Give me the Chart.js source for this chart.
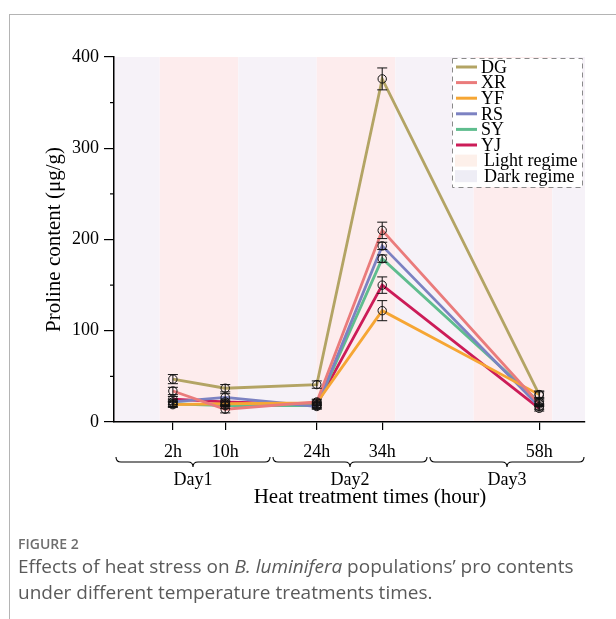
<!DOCTYPE html>
<html>
<head>
<meta charset="utf-8">
<script src="https://cdn.jsdelivr.net/npm/chart.js@4.4.0/dist/chart.umd.min.js"></script>
<style>
  body { margin: 0; background: #fff; }
  #wrap { position: relative; width: 616px; height: 619px; overflow: hidden; }
  #frame { position: absolute; left: 9px; top: 14px; width: 620px; height: 620px;
           border-top: 1.5px solid #b4b4b4; border-left: 1.5px solid #b4b4b4; }
  canvas { position: absolute; left: 0; top: 0; }
  .cap { position: absolute; left: 18px; font-family: 'Open Sans', sans-serif; color: #5a5a5a; }
  #figno { top: 534px; font-size: 14px; font-weight: 600; color: #6e6e6e; }
  #captext { top: 553px; font-size: 19px; line-height: 26px; width: 565px; }
</style>
</head>
<body>
<div id="wrap">
  <div id="frame"></div>
  <canvas id="chart" width="616" height="619"></canvas>
  <div class="cap" id="figno">FIGURE 2</div>
  <div class="cap" id="captext">Effects of heat stress on <i>B. luminifera</i> populations’ pro contents under different temperature treatments times.</div>
</div>
<script>
// sampling times (hours) and their tick labels
const hours = [2, 10, 24, 34, 58];
const tickLabels = ['2h', '10h', '24h', '34h', '58h'];

// populations
const seriesNames = ['DG', 'XR', 'YF', 'RS', 'SY', 'YJ'];
const seriesColors = ['#b3a464', '#ea7b7b', '#f6a634', '#7c82c2', '#5fbd8e', '#cc1c58'];

// proline content (ug/g)
const dgValues = [47, 37, 41, 376, 30];
const xrValues = [34, 14, 22, 210, 20];
const yfValues = [19, 20, 21, 122, 30];
const rsValues = [22, 27, 17, 193, 17];
const syValues = [20, 18, 18, 179, 22];
const yjValues = [25, 22, 19, 150, 15];

// error bars (+/-)
const dgErr = [5, 4, 4, 12, 4];
const xrErr = [4, 4, 3, 9, 3];
const yfErr = [3, 3, 3, 11, 3];
const rsErr = [3, 4, 3, 4, 3];
const syErr = [3, 3, 3, 4, 3];
const yjErr = [3, 3, 3, 9, 3];

const allValues = [dgValues, xrValues, yfValues, rsValues, syValues, yjValues];
const allErrors = [dgErr, xrErr, yfErr, rsErr, syErr, yjErr];

// light / dark regime bands (hours)
const regimeEdges = [-7, 0, 12, 24, 36, 48, 60, 65];
const regimeKinds = ['dark', 'light', 'dark', 'light', 'dark', 'light', 'dark'];

// day brackets under the axis
const dayEdges = [-7, 17, 41, 65];
const dayLabels = ['Day1', 'Day2', 'Day3'];

const yMinorTicks = [50, 150, 250, 350];

const SERIF = "'Liberation Serif', 'Times New Roman', serif";
const bandColors = { light: '#fdeced', dark: '#f6f2f8' };

const datasets = seriesNames.map((name, i) => ({
  label: name,
  data: hours.map((h, j) => ({ x: h, y: allValues[i][j] })),
  borderColor: seriesColors[i],
  borderWidth: 2.8,
  pointRadius: 0,
  tension: 0,
  fill: false
}));

// background regime bands
const bandsPlugin = {
  id: 'bands',
  beforeDraw(chart) {
    const { ctx, chartArea } = chart;
    const xs = chart.scales.x;
    ctx.save();
    for (let i = 0; i < regimeKinds.length; i++) {
      const x0 = xs.getPixelForValue(regimeEdges[i]);
      const x1 = xs.getPixelForValue(regimeEdges[i + 1]);
      ctx.fillStyle = bandColors[regimeKinds[i]];
      ctx.fillRect(x0, chartArea.top, x1 - x0, chartArea.bottom - chartArea.top);
    }
    ctx.restore();
  }
};

// error bars + open circle markers
const errorBarPlugin = {
  id: 'errorBars',
  afterDatasetsDraw(chart) {
    const { ctx } = chart;
    const ys = chart.scales.y;
    ctx.save();
    ctx.strokeStyle = '#111';
    ctx.lineWidth = 1;
    chart.data.datasets.forEach((ds, i) => {
      const meta = chart.getDatasetMeta(i);
      meta.data.forEach((pt, j) => {
        const v = allValues[i][j];
        const e = allErrors[i][j];
        const yTop = ys.getPixelForValue(v + e);
        const yBot = ys.getPixelForValue(v - e);
        ctx.beginPath();
        ctx.moveTo(pt.x, yTop); ctx.lineTo(pt.x, yBot);
        ctx.moveTo(pt.x - 5, yTop); ctx.lineTo(pt.x + 5, yTop);
        ctx.moveTo(pt.x - 5, yBot); ctx.lineTo(pt.x + 5, yBot);
        ctx.stroke();
      });
    });
    chart.data.datasets.forEach((ds, i) => {
      const meta = chart.getDatasetMeta(i);
      meta.data.forEach(pt => {
        ctx.beginPath();
        ctx.arc(pt.x, pt.y, 4.2, 0, Math.PI * 2);
        ctx.stroke();
      });
    });
    ctx.restore();
  }
};

// minor ticks, day brackets, x title, legend
const decorPlugin = {
  id: 'decor',
  afterDraw(chart) {
    const { ctx, chartArea } = chart;
    const xs = chart.scales.x;
    const ys = chart.scales.y;
    ctx.save();

    // minor y ticks
    ctx.strokeStyle = '#000';
    ctx.lineWidth = 1.2;
    yMinorTicks.forEach(v => {
      const y = ys.getPixelForValue(v);
      ctx.beginPath();
      ctx.moveTo(chartArea.left - 4, y);
      ctx.lineTo(chartArea.left, y);
      ctx.stroke();
    });

    // braces
    const by = 462;
    ctx.lineWidth = 1.1;
    ctx.fillStyle = '#000';
    ctx.font = '18px ' + SERIF;
    ctx.textAlign = 'center';
    ctx.textBaseline = 'middle';
    for (let i = 0; i < dayLabels.length; i++) {
      const x0 = xs.getPixelForValue(dayEdges[i]) + 2;
      const x1 = xs.getPixelForValue(dayEdges[i + 1]) - 1;
      const xm = (x0 + x1) / 2;
      ctx.beginPath();
      ctx.moveTo(x0, by - 5);
      ctx.quadraticCurveTo(x0, by, x0 + 5, by);
      ctx.lineTo(xm - 5, by);
      ctx.quadraticCurveTo(xm, by, xm, by + 5);
      ctx.quadraticCurveTo(xm, by, xm + 5, by);
      ctx.lineTo(x1 - 5, by);
      ctx.quadraticCurveTo(x1, by, x1, by - 5);
      ctx.stroke();
      ctx.fillText(dayLabels[i], xm, 480);
    }

    // x axis title
    ctx.font = '21px ' + SERIF;
    ctx.fillText('Heat treatment times (hour)', 370, 497);

    // legend
    const lx = 452, ly = 58, lw = 130, lh = 129;
    ctx.fillStyle = '#fff';
    ctx.fillRect(lx, ly, lw, lh);
    ctx.setLineDash([5, 4]);
    ctx.strokeStyle = '#8a8a8a';
    ctx.lineWidth = 1;
    ctx.strokeRect(lx + 0.5, ly + 0.5, lw, lh);
    ctx.setLineDash([]);
    ctx.font = '18px ' + SERIF;
    ctx.textAlign = 'left';
    const rowH = 15.6;
    seriesNames.forEach((name, i) => {
      const y = 67 + i * rowH;
      ctx.strokeStyle = seriesColors[i];
      ctx.lineWidth = 3;
      ctx.beginPath();
      ctx.moveTo(456, y); ctx.lineTo(477, y);
      ctx.stroke();
      ctx.fillStyle = '#000';
      ctx.fillText(name, 481, y + 1);
    });
    const patches = [['Light regime', '#fdf0ea'], ['Dark regime', '#eeedf5']];
    patches.forEach((p, k) => {
      const y = 67 + (6 + k) * rowH;
      ctx.fillStyle = p[1];
      ctx.fillRect(455, y - 6, 22, 12);
      ctx.fillStyle = '#000';
      ctx.fillText(p[0], 484, y + 1);
    });
    ctx.restore();
  }
};

new Chart(document.getElementById('chart'), {
  type: 'line',
  data: { datasets: datasets },
  options: {
    responsive: false,
    animation: false,
    layout: { padding: { top: 57, right: 31, left: 0, bottom: 0 } },
    plugins: { legend: { display: false }, tooltip: { enabled: false } },
    scales: {
      x: {
        type: 'linear',
        min: regimeEdges[0],
        max: regimeEdges[regimeEdges.length - 1],
        afterBuildTicks: scale => { scale.ticks = hours.map(h => ({ value: h })); },
        afterFit: scale => { scale.height = 197; },
        grid: { drawOnChartArea: false, tickLength: 8, color: '#000', lineWidth: 1.2 },
        border: { color: '#000', width: 1.5 },
        ticks: {
          autoSkip: false,
          maxRotation: 0,
          padding: 11,
          color: '#000',
          font: { family: SERIF, size: 18 },
          callback: value => tickLabels[hours.indexOf(value)]
        }
      },
      y: {
        min: 0,
        max: 400,
        afterFit: scale => { scale.width = 114; },
        grid: { drawOnChartArea: false, tickLength: 10, color: '#000', lineWidth: 1.2 },
        border: { color: '#000', width: 1.5 },
        ticks: {
          stepSize: 100,
          padding: 5,
          color: '#000',
          font: { family: SERIF, size: 18 }
        },
        title: {
          display: true,
          text: 'Proline content (μg/g)',
          color: '#000',
          font: { family: SERIF, size: 21 },
          padding: { top: 42, bottom: 0 }
        }
      }
    }
  },
  plugins: [bandsPlugin, errorBarPlugin, decorPlugin]
});
</script>
</body>
</html>
